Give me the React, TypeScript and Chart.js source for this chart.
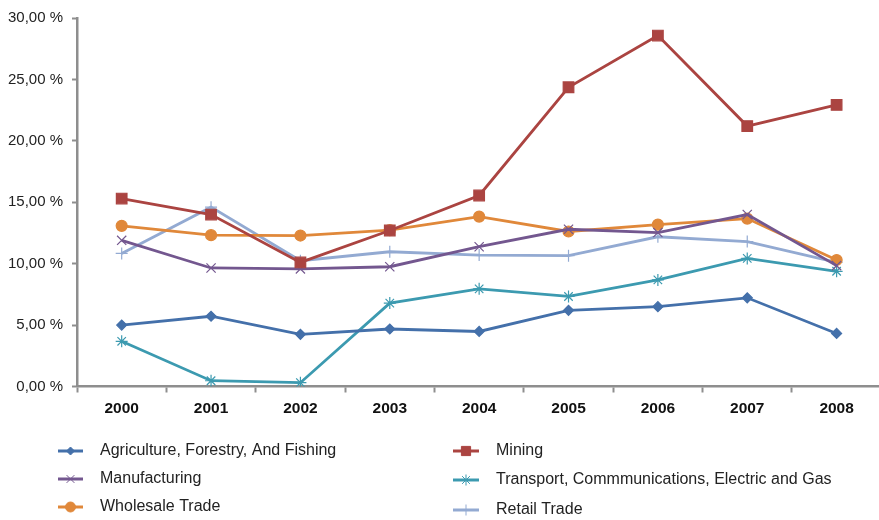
import React, { useEffect, useRef } from "react";
import { Chart, registerables } from "chart.js";
import { drawPoint } from "chart.js/helpers";

Chart.register(...registerables);

const years = ["2000", "2001", "2002", "2003", "2004", "2005", "2006", "2007", "2008"];

const agriculture = [5.0, 5.72, 4.25, 4.68, 4.48, 6.2, 6.5, 7.22, 4.32];
const mining = [15.3, 14.0, 10.1, 12.7, 15.55, 24.36, 28.57, 21.2, 22.93];
const manufacturing = [11.9, 9.65, 9.57, 9.75, 11.38, 12.8, 12.53, 14.0, 9.84];
const transport = [3.68, 0.47, 0.31, 6.79, 7.95, 7.33, 8.68, 10.43, 9.38];
const wholesale = [13.08, 12.32, 12.29, 12.73, 13.83, 12.62, 13.18, 13.67, 10.3];
const retail = [10.83, 14.6, 10.24, 10.97, 10.7, 10.65, 12.19, 11.8, 10.1];

const yTicks = [0, 5, 10, 15, 20, 25, 30];

const FONT = "'Liberation Sans', Arial, Helvetica, sans-serif";
const AXIS_GREY = "#8e8e8e";

// The plot runs slightly past the visible frame on the right
const CANVAS_W = 890;
const VIEW_W = 879;
const H = 520;

type SeriesDef = {
  label: string;
  data: number[];
  color: string;
  pointStyle: string;
  radius: number;
  legendRadius: number;
};

const series: SeriesDef[] = [
  { label: "Agriculture, Forestry, And Fishing", data: agriculture, color: "#4470AA", pointStyle: "rectRot", radius: 5, legendRadius: 4 },
  { label: "Mining", data: mining, color: "#AB4441", pointStyle: "rect", radius: 7.5, legendRadius: 6.5 },
  { label: "Manufacturing", data: manufacturing, color: "#73578F", pointStyle: "crossRot", radius: 6.5, legendRadius: 5.5 },
  { label: "Transport, Commmunications, Electric and Gas", data: transport, color: "#3C9AB0", pointStyle: "star", radius: 6, legendRadius: 5.5 },
  { label: "Wholesale Trade", data: wholesale, color: "#E0883A", pointStyle: "circle", radius: 5.5, legendRadius: 5 },
  { label: "Retail Trade", data: retail, color: "#93AAD2", pointStyle: "cross", radius: 6, legendRadius: 5.5 },
];

// Two-column legend drawn on the canvas beneath the plot
const legendSlots = [
  { col: 0, y: 451 },
  { col: 1, y: 451 },
  { col: 0, y: 479 },
  { col: 1, y: 480 },
  { col: 0, y: 507 },
  { col: 1, y: 510 },
];
const legendCols = [
  { lineStart: 58, lineEnd: 83, textX: 100 },
  { lineStart: 453, lineEnd: 479, textX: 496 },
];

const columnLegend = {
  id: "columnLegend",
  afterDraw(chart: any) {
    const ctx = chart.ctx as CanvasRenderingContext2D;
    ctx.save();
    chart.data.datasets.forEach((ds: any, i: number) => {
      const slot = legendSlots[i];
      const col = legendCols[slot.col];
      const s = series[i];
      ctx.strokeStyle = s.color;
      ctx.lineWidth = 3;
      ctx.beginPath();
      ctx.moveTo(col.lineStart, slot.y);
      ctx.lineTo(col.lineEnd, slot.y);
      ctx.stroke();
      ctx.fillStyle = s.color;
      ctx.strokeStyle = s.color;
      ctx.lineWidth = 1;
      drawPoint(
        ctx,
        { pointStyle: s.pointStyle as any, radius: s.legendRadius, rotation: 0, borderWidth: 1 },
        (col.lineStart + col.lineEnd) / 2,
        slot.y
      );
      ctx.fillStyle = "#222";
      ctx.font = `16px ${FONT}`;
      ctx.textBaseline = "middle";
      ctx.textAlign = "left";
      ctx.fillText(ds.label, col.textX, slot.y);
    });
    ctx.restore();
  },
};

function formatPercent(v: number): string {
  return v.toFixed(2).replace(".", ",") + " %";
}

export default function App() {
  const canvasRef = useRef<HTMLCanvasElement | null>(null);

  useEffect(() => {
    const canvas = canvasRef.current;
    if (!canvas) return;
    const chart = new Chart(canvas, {
      type: "line",
      data: {
        labels: years,
        datasets: series.map((s) => ({
          label: s.label,
          data: s.data,
          borderColor: s.color,
          backgroundColor: s.color,
          pointBackgroundColor: s.color,
          pointBorderColor: s.color,
          pointStyle: s.pointStyle as any,
          pointRadius: s.radius,
          pointBorderWidth: 1.2,
          borderWidth: 2.8,
          tension: 0,
          fill: false,
        })),
      },
      options: {
        responsive: false,
        animation: false,
        maintainAspectRatio: false,
        layout: { padding: { top: 16, right: -2, left: 0, bottom: 0 } },
        plugins: {
          legend: { display: false },
          tooltip: { enabled: false },
        },
        scales: {
          x: {
            offset: true,
            grid: {
              display: true,
              offset: true,
              drawOnChartArea: false,
              drawTicks: true,
              tickLength: 6,
              tickWidth: 2,
              tickColor: AXIS_GREY,
              color: AXIS_GREY,
            },
            border: { display: true, color: AXIS_GREY, width: 2.5 },
            ticks: {
              color: "#111",
              padding: 7,
              font: { family: FONT, size: 15.5, weight: "bold" },
            },
            afterFit(scale: any) {
              scale.height = H - 386.5;
            },
          },
          y: {
            min: 0,
            max: 30,
            afterBuildTicks(scale: any) {
              scale.ticks = yTicks.map((v) => ({ value: v }));
            },
            grid: {
              display: true,
              drawOnChartArea: false,
              drawTicks: true,
              tickLength: 5,
              tickWidth: 2,
              tickColor: AXIS_GREY,
              color: AXIS_GREY,
            },
            border: { display: true, color: AXIS_GREY, width: 2.5 },
            ticks: {
              color: "#222",
              padding: 9,
              font: { family: FONT, size: 15 },
              callback: (v: any) => formatPercent(Number(v)),
            },
            afterFit(scale: any) {
              scale.width = 77;
            },
          },
        },
      },
      plugins: [columnLegend],
    });
    return () => chart.destroy();
  }, []);

  return (
    <div
      style={{
        position: "fixed",
        left: 0,
        top: 0,
        width: VIEW_W,
        height: H,
        overflow: "hidden",
        background: "#fff",
      }}
    >
      <canvas ref={canvasRef} width={CANVAS_W} height={H} style={{ display: "block" }} />
    </div>
  );
}
